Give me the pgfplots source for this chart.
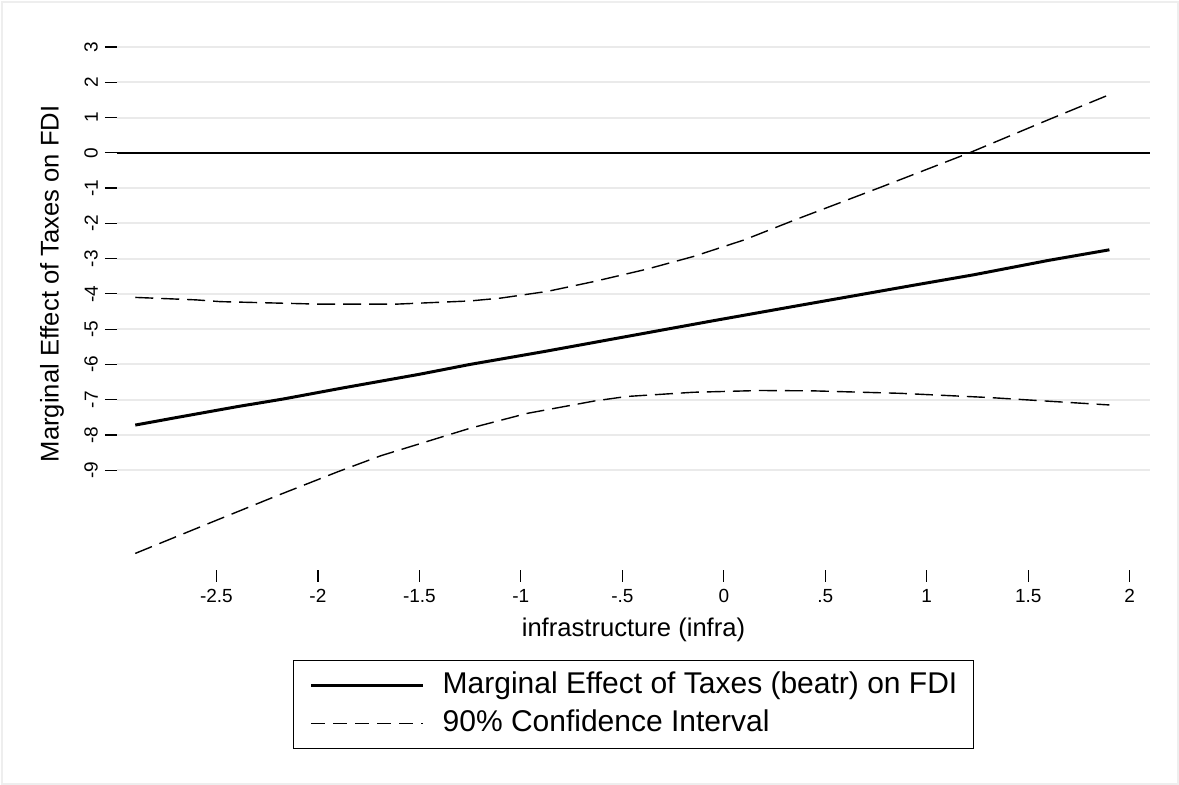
\documentclass[border=0pt]{standalone}
\usepackage{fontspec}
\setmainfont{Liberation Sans}
\usepackage{pgfplots}
\pgfplotsset{compat=1.18}
\definecolor{gridgray}{HTML}{EAEAEA}
\definecolor{framegray}{HTML}{EEEEEE}

% marginal effect and 90% CI
\pgfplotstableread{
x      y
-2.90  -7.72
-2.70  -7.51
-2.40  -7.20
-2.17  -6.98
-1.88  -6.67
-1.50  -6.28
-1.25  -6.00
-0.89  -5.64
-0.48  -5.21
-0.07  -4.78
 0.34  -4.36
 0.95  -3.74
 1.23  -3.46
 1.60  -3.05
 1.90  -2.75
}\datame
\pgfplotstableread{
x      y
-2.90  -4.10
-2.60  -4.17
-2.48  -4.22
-2.00  -4.29
-1.61  -4.29
-1.25  -4.20
-1.10  -4.12
-0.87  -3.93
-0.64  -3.65
-0.38  -3.30
-0.15  -2.94
 0.10  -2.47
 0.36  -1.88
 0.78  -0.96
 1.21   0.00
 1.60   0.94
 1.90   1.65
}\dataup
\pgfplotstableread{
x      y
-2.90  -11.36
-2.50  -10.42
-2.20  -9.72
-1.90  -9.04
-1.69  -8.59
-1.25  -7.81
-0.97  -7.39
-0.64  -7.04
-0.48  -6.91
-0.15  -6.79
 0.18  -6.74
 0.44  -6.75
 0.87  -6.82
 1.31  -6.94
 1.90  -7.15
}\datalo

\begin{document}
\begin{tikzpicture}
  % outer frame and page size
  \path (-58.5pt,-107.5pt) rectangle (531pt,285pt);
  \draw[framegray, line width=1pt] (-57.5pt,-107pt) rectangle (530.5pt,284pt);
  \begin{axis}[
    scale only axis, width=516.5pt, height=265pt,
    xmin=-2.99, xmax=2.10, ymin=-11.83, ymax=3.2,
    axis x line*=bottom, axis y line*=left,
    axis line style={draw=none},
    tick align=outside, major tick length=6pt,
    tick style={black, line width=0.6pt},
    xtick={-2.5,-2,-1.5,-1,-0.5,0,0.5,1,1.5,2},
    xticklabels={-2.5,-2,-1.5,-1,-.5,0,.5,1,1.5,2},
    ytick={-9,-8,-7,-6,-5,-4,-3,-2,-1,0,1,2,3},
    yticklabels={-9,-8,-7,-6,-5,-4,-3,-2,-1,0,1,2,3},
    ymajorgrids, grid style={gridgray, line width=1pt},
    ticklabel style={font=\fontsize{9.5}{11}\selectfont},
    yticklabel style={rotate=90, anchor=south},
    xlabel={infrastructure (infra)},
    ylabel={Marginal Effect of Taxes on FDI},
    label style={font=\fontsize{12.8}{15}\selectfont},
    xlabel style={at={(axis description cs:0.5,-0.113)}, anchor=center},
    ylabel style={at={(axis description cs:-0.063,0.54)}, anchor=center},
    legend style={at={(axis description cs:0.5,-0.1698)}, anchor=north,
      draw=black, line width=0.6pt, fill=white,
      font=\fontsize{15}{18}\selectfont,
      inner xsep=8pt, inner ysep=5.25pt, row sep=4.5pt,
      nodes={inner sep=0pt, text height=11pt, text depth=3.5pt},
      /tikz/every odd column/.append style={column sep=9pt}},
    legend cell align=left,
    legend image code/.code={\draw[#1] (0pt,0pt) -- (56pt,0pt);},
  ]
    \addplot[black, line width=1.3pt, forget plot] coordinates {(-2.99,0) (2.10,0)};
    \addplot[black, line width=1.5pt] table[x=x, y=y] {\datame};
      \addlegendentry{Marginal Effect of Taxes (beatr) on FDI}
    \addplot[black, line width=0.7pt, dash pattern=on 9pt off 4pt,
      legend image post style={dash pattern=on 7pt off 4pt}] table[x=x, y=y] {\dataup};
      \addlegendentry{90\% Confidence Interval}
    \addplot[black, line width=0.7pt, dash pattern=on 9pt off 4pt, forget plot] table[x=x, y=y] {\datalo};
  \end{axis}
\end{tikzpicture}
\end{document}
